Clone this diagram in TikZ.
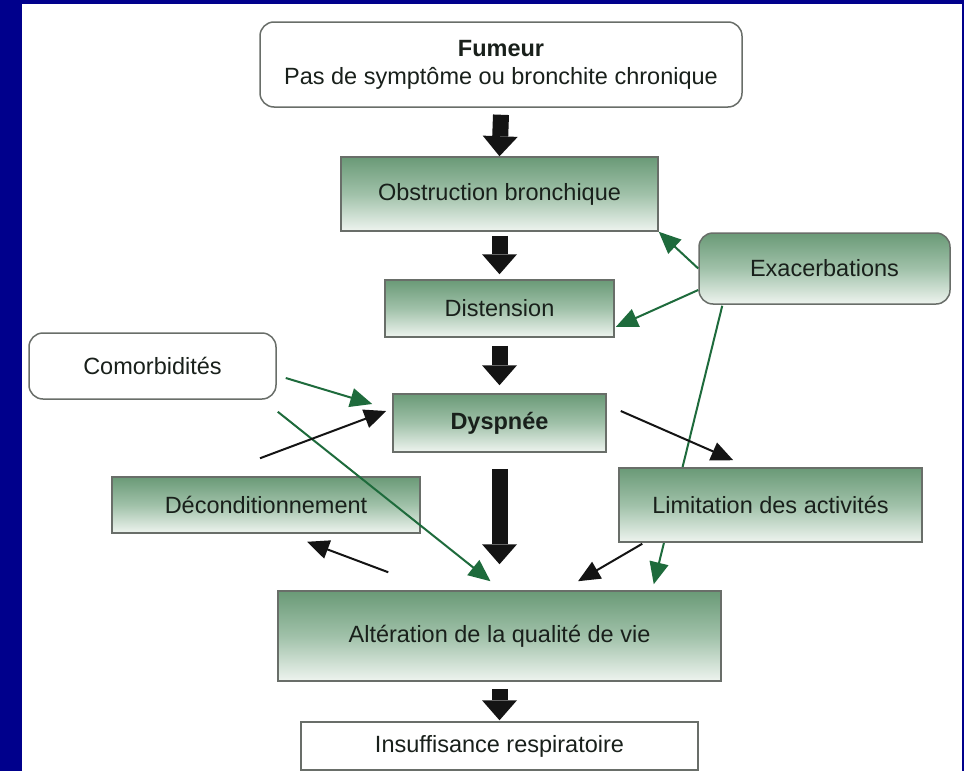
\documentclass[tikz,border=0pt]{standalone}
\usepackage{fontspec}
\setmainfont{Liberation Sans}
\usetikzlibrary{arrows.meta,calc}
\definecolor{navybg}{RGB}{0,0,140}
\definecolor{boxtop}{RGB}{106,154,119}
\definecolor{boxmid}{RGB}{160,193,169}
\definecolor{boxbot}{RGB}{238,244,239}
\definecolor{edgegrey}{RGB}{105,110,105}
\definecolor{garrow}{RGB}{30,107,60}
\definecolor{txtcol}{RGB}{25,32,27}
\pgfdeclarelayer{bg}
\pgfdeclarelayer{behind}
\pgfsetlayers{bg,behind,main}
\tikzset{
  basebox/.style={draw=edgegrey, line width=1.5pt, inner sep=0pt, text=txtcol,
    font=\fontsize{23.5}{28}\selectfont, align=center},
  greenbox/.style={basebox, top color=boxtop, bottom color=boxbot, middle color=boxmid},
  whitebox/.style={basebox, fill=white},
  roundbox/.style={rounded corners=14pt},
  thickarrow/.style={line width=16pt, draw=black!92, -{Triangle[length=20pt,width=35pt,line width=0pt]}},
  greenarrow/.style={draw=garrow, line width=2pt, -{Triangle[length=22pt,width=19pt]}},
  blackarrow/.style={draw=black!92, line width=2pt, -{Triangle[length=22pt,width=19pt]}}
}
\begin{document}
\begin{tikzpicture}[x=1pt,y=-1pt]
\useasboundingbox (0,0) rectangle (964,771);
\begin{pgfonlayer}{bg}
  \fill[navybg] (0,0) rectangle (964,771);
  \fill[white] (22,4) rectangle (962,771);
\end{pgfonlayer}

% nodes
\node[whitebox, roundbox, minimum width=482pt, minimum height=85pt] (fum) at (501,64.5)
  {\textbf{Fumeur}\\Pas de symptôme ou bronchite chronique};
\node[greenbox, minimum width=317pt, minimum height=74pt] (obs) at (499.5,194) {Obstruction bronchique};
\node[greenbox, minimum width=229pt, minimum height=57pt] (dist) at (499.5,308.5) {Distension};
\node[greenbox, minimum width=213pt, minimum height=58pt] (dys) at (499.5,423) {\textbf{Dyspnée}};
\node[greenbox, roundbox, minimum width=251pt, minimum height=71pt] (exa) at (824.5,268.5) {Exacerbations};
\node[whitebox, roundbox, minimum width=247pt, minimum height=66pt] (com) at (152.5,366) {Comorbidités};
\node[greenbox, minimum width=308pt, minimum height=56pt] (dec) at (266,505) {Déconditionnement};
\node[greenbox, minimum width=303pt, minimum height=74pt] (lim) at (770.5,505) {Limitation des activités};
\node[greenbox, minimum width=443pt, minimum height=90pt] (alt) at (499.5,636) {Altération de la qualité de vie};
\node[whitebox, minimum width=397pt, minimum height=48pt] (ins) at (499.5,746) {Insuffisance respiratoire};

% thick vertical arrows
\draw[thickarrow] ($(fum.south)+(0,7)$) -- (obs.north);
\draw[thickarrow] ($(obs.south)+(0,4)$) -- ($(dist.north)+(0,-5)$);
\draw[thickarrow] ($(dist.south)+(0,8)$) -- ($(dys.north)+(0,-8)$);
\draw[thickarrow] ($(dys.south)+(0,16)$) -- ($(alt.north)+(0,-26)$);
\draw[thickarrow] ($(alt.south)+(0,7)$) -- ($(ins.north)+(0,-1)$);

% green arrows
\draw[greenarrow] (exa.west) -- (obs.south east);
\draw[greenarrow] ($(exa.west)+(0,21.5)$) -- ($(dist.east)+(1,18.5)$);
\begin{pgfonlayer}{behind}
\draw[greenarrow] ($(exa.south west)+(24,1)$) -- ($(alt.north east)+(-68,-6)$);
\end{pgfonlayer}
\draw[greenarrow] ($(com.east)+(9,12)$) -- ($(dys.west)+(-20,-19)$);
\draw[greenarrow] ($(com.south east)+(1,12)$) -- ($(alt.north)+(-9,-9)$);

% black arrows
\draw[blackarrow] ($(dec.north)+(-6,-18)$) -- ($(dys.west)+(-6,-12)$);
\draw[blackarrow] ($(dys.east)+(14,-12)$) -- ($(lim.north west)+(115,-7)$);
\draw[blackarrow] ($(alt.north west)+(111,-18)$) -- ($(dec.south)+(41,8)$);
\draw[blackarrow] ($(lim.south west)+(24,1)$) -- ($(alt.north)+(78.5,-9)$);
\end{tikzpicture}
\end{document}
